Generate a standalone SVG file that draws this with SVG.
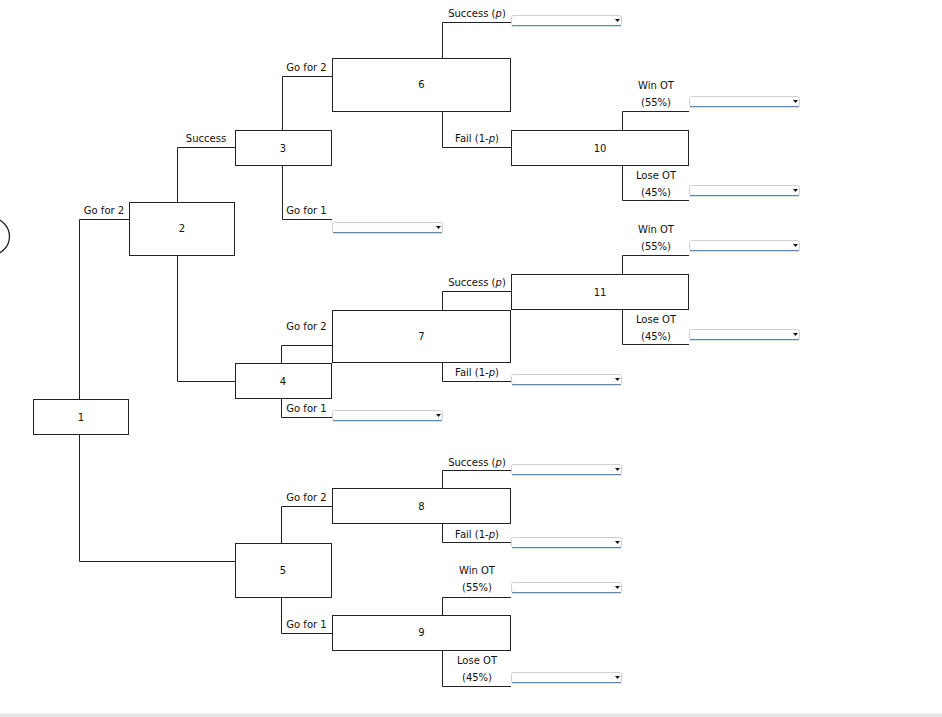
<svg xmlns="http://www.w3.org/2000/svg" width="942" height="717" viewBox="0 0 942 717">
<defs>
<style>
.box{fill:#fff;stroke:#222;stroke-width:1}
.con{fill:none;stroke:#222;stroke-width:1}
.t{font-family:"DejaVu Sans",Verdana,sans-serif;font-size:10px;fill:#111;text-anchor:middle}
</style>
<g id="dropdown">
<rect x="0.5" y="0.5" width="110" height="10" rx="2" fill="#fff" stroke="#cfcfcf" stroke-width="1"/>
<line x1="1" y1="10.6" x2="110" y2="10.6" stroke="#5f87ad" stroke-width="1.2"/>
<path d="M104,4 h5 l-2.5,3 z" fill="#111"/>
</g>
</defs>
<rect width="942" height="717" fill="#fff"/>
<circle cx="-9" cy="236.5" r="18.5" fill="none" stroke="#222" stroke-width="1.3"/>
<rect x="0" y="713" width="942" height="4" fill="#ececec"/>
<line x1="0" y1="715.5" x2="942" y2="715.5" stroke="#dcdcdc"/>

<g id="connectors">
<path class="con" d="M79.5,399 V219.5 H129"/>
<path class="con" d="M79.5,434 V561.5 H235"/>
<path class="con" d="M177.5,202 V147.5 H235"/>
<path class="con" d="M177.5,255 V381.5 H235"/>
<path class="con" d="M282.5,130 V76.5 H332"/>
<path class="con" d="M282.5,165 V219.5 H332"/>
<path class="con" d="M442.5,58 V22.5 H511"/>
<path class="con" d="M442.5,111 V147.5 H511"/>
<path class="con" d="M622.5,130 V111.5 H689"/>
<path class="con" d="M622.5,165 V200.5 H689"/>
<path class="con" d="M281.5,363 V345.5 H332"/>
<path class="con" d="M281.5,398 V417.5 H332"/>
<path class="con" d="M442.5,310 V291.5 H511"/>
<path class="con" d="M442.5,362 V381.5 H511"/>
<path class="con" d="M622.5,274 V255.5 H689"/>
<path class="con" d="M622.5,309 V344.5 H689"/>
<path class="con" d="M281.5,543 V506.5 H332"/>
<path class="con" d="M281.5,597 V633.5 H332"/>
<path class="con" d="M442.5,488 V470.5 H511"/>
<path class="con" d="M442.5,523 V542.5 H511"/>
<path class="con" d="M442.5,615 V597.5 H511"/>
<path class="con" d="M442.5,650 V686.5 H511"/>
</g>

<g id="labels">
<text class="t" x="104" y="214">Go for 2</text>
<text class="t" x="206" y="142">Success</text>
<text class="t" x="306.5" y="71">Go for 2</text>
<text class="t" x="306.5" y="214">Go for 1</text>
<text class="t" x="477" y="17">Success (<tspan font-style="italic">p</tspan>)</text>
<text class="t" x="477" y="142">Fail (1-<tspan font-style="italic">p</tspan>)</text>
<text class="t" x="656" y="89">Win OT</text>
<text class="t" x="656" y="106">(55%)</text>
<text class="t" x="656" y="179">Lose OT</text>
<text class="t" x="656" y="196">(45%)</text>
<text class="t" x="656" y="233">Win OT</text>
<text class="t" x="656" y="250">(55%)</text>
<text class="t" x="656" y="323">Lose OT</text>
<text class="t" x="656" y="340">(45%)</text>
<text class="t" x="477" y="286">Success (<tspan font-style="italic">p</tspan>)</text>
<text class="t" x="306.5" y="330">Go for 2</text>
<text class="t" x="477" y="376">Fail (1-<tspan font-style="italic">p</tspan>)</text>
<text class="t" x="306.5" y="412">Go for 1</text>
<text class="t" x="477" y="466">Success (<tspan font-style="italic">p</tspan>)</text>
<text class="t" x="306.5" y="501">Go for 2</text>
<text class="t" x="477" y="538">Fail (1-<tspan font-style="italic">p</tspan>)</text>
<text class="t" x="306.5" y="628">Go for 1</text>
<text class="t" x="477" y="574">Win OT</text>
<text class="t" x="477" y="591">(55%)</text>
<text class="t" x="477" y="664">Lose OT</text>
<text class="t" x="477" y="681">(45%)</text>
</g>

<g id="node1"><rect class="box" x="33.5" y="399.5" width="95" height="35"/><text class="t" x="81" y="421">1</text></g>
<g id="node2"><rect class="box" x="129.5" y="202.5" width="105" height="53"/><text class="t" x="182" y="232">2</text></g>
<g id="node3"><rect class="box" x="235.5" y="130.5" width="96" height="35"/><text class="t" x="283" y="152">3</text></g>
<g id="node4"><rect class="box" x="235.5" y="363.5" width="96" height="35"/><text class="t" x="283" y="385">4</text></g>
<g id="node5"><rect class="box" x="235.5" y="543.5" width="96" height="54"/><text class="t" x="283" y="574">5</text></g>
<g id="node6"><rect class="box" x="332.5" y="58.5" width="178" height="53"/><text class="t" x="421.5" y="88">6</text></g>
<g id="node7"><rect class="box" x="332.5" y="310.5" width="178" height="52"/><text class="t" x="421.5" y="340">7</text></g>
<g id="node8"><rect class="box" x="332.5" y="488.5" width="178" height="35"/><text class="t" x="421.5" y="510">8</text></g>
<g id="node9"><rect class="box" x="332.5" y="615.5" width="178" height="35"/><text class="t" x="421.5" y="636">9</text></g>
<g id="node10"><rect class="box" x="511.5" y="130.5" width="177" height="35"/><text class="t" x="600" y="152">10</text></g>
<g id="node11"><rect class="box" x="511.5" y="274.5" width="177" height="35"/><text class="t" x="600" y="296">11</text></g>

<g id="dropdowns">
<use href="#dropdown" x="511" y="15"/>
<use href="#dropdown" x="689" y="96"/>
<use href="#dropdown" x="689" y="185"/>
<use href="#dropdown" x="332" y="222"/>
<use href="#dropdown" x="689" y="240"/>
<use href="#dropdown" x="689" y="329"/>
<use href="#dropdown" x="511" y="374"/>
<use href="#dropdown" x="332" y="410"/>
<use href="#dropdown" x="511" y="464"/>
<use href="#dropdown" x="511" y="537"/>
<use href="#dropdown" x="511" y="582"/>
<use href="#dropdown" x="511" y="672"/>
</g>
</svg>
